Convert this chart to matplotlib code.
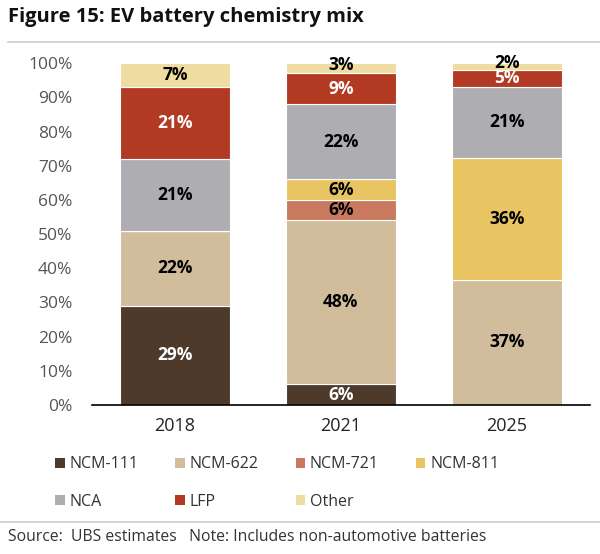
import matplotlib.pyplot as plt
import numpy as np
from matplotlib.lines import Line2D
from matplotlib.patches import Patch

plt.rcParams['font.family'] = ['Open Sans', 'DejaVu Sans']

years = ["2018", "2021", "2025"]
chemistries = ["NCM-111", "NCM-622", "NCM-721", "NCM-811", "NCA", "LFP", "Other"]
ncm111 = [29, 6, 0]
ncm622 = [22, 48, 37]
ncm721 = [0, 6, 0]
ncm811 = [0, 6, 36]
nca = [21, 22, 21]
lfp = [21, 9, 5]
other = [7, 3, 2]

series = [ncm111, ncm622, ncm721, ncm811, nca, lfp, other]
colors = ["#4d3a2b", "#d1bd9c", "#c97a5e", "#e9c463", "#aeaeb2", "#b33a22", "#efdca0"]
text_colors = ["white", "black", "black", "black", "black", "white", "black"]

# 100% stacked: each bar scaled to its total, labels keep the raw shares
totals = np.sum(np.array(series, dtype=float), axis=0)

fig = plt.figure(figsize=(6, 5.54), dpi=100)
ax = fig.add_axes([0.153, 0.269, 0.83, 0.617])

x = np.arange(len(years))
bottom = np.zeros(len(years))
for vals, col, tcol in zip(series, colors, text_colors):
    raw = np.array(vals, dtype=float)
    h = raw / totals * 100
    ax.bar(x, h, 0.66, bottom=bottom, color=col, edgecolor="white", linewidth=0.8)
    for xi, v, hv, b in zip(x, raw, h, bottom):
        if v > 0:
            y = b + hv / 2 + (1.0 if hv < 4 else 0)
            ax.text(xi, y, f"{int(v)}%", ha="center", va="center",
                    color=tcol, fontsize=12.5, fontweight="bold")
    bottom += h

ax.set_xlim(-0.5, 2.5)
ax.set_ylim(0, 100)
ax.set_yticks(range(0, 101, 10))
ax.set_yticklabels([f"{v}%" for v in range(0, 101, 10)], fontsize=12.5, color="#555555")
ax.set_xticks(x)
ax.set_xticklabels(years, fontsize=13, color="#222222")
ax.tick_params(axis="y", length=0, pad=14)
ax.tick_params(axis="x", length=0, pad=9)
for s in ["left", "right", "top"]:
    ax.spines[s].set_visible(False)
ax.spines["bottom"].set_color("black")
ax.spines["bottom"].set_linewidth(1.2)

handles = [Patch(facecolor=c, edgecolor="none") for c in colors]
order = [0, 4, 1, 5, 2, 6, 3]
fig.legend([handles[i] for i in order], [chemistries[i] for i in order],
           ncol=4, loc="center", bbox_to_anchor=(0.462, 0.128), frameon=False,
           fontsize=11.5, handlelength=0.6, handleheight=0.6, handletextpad=0.3,
           columnspacing=2.3, labelspacing=1.35, labelcolor="#333333")

fig.text(0.013, 0.97, "Figure 15: EV battery chemistry mix", fontsize=14.5,
         fontweight="bold", va="center", ha="left", color="#111111")
fig.add_artist(Line2D([0.013, 1.0], [0.924, 0.924], color="#cccccc", linewidth=1.2))
fig.add_artist(Line2D([0.0, 1.0], [0.058, 0.058], color="#cccccc", linewidth=1.2))
fig.text(0.013, 0.03, "Source:  UBS estimates   Note: Includes non-automotive batteries",
         fontsize=11.3, va="center", ha="left", color="#333333")

fig.savefig("out.png", dpi=100)
